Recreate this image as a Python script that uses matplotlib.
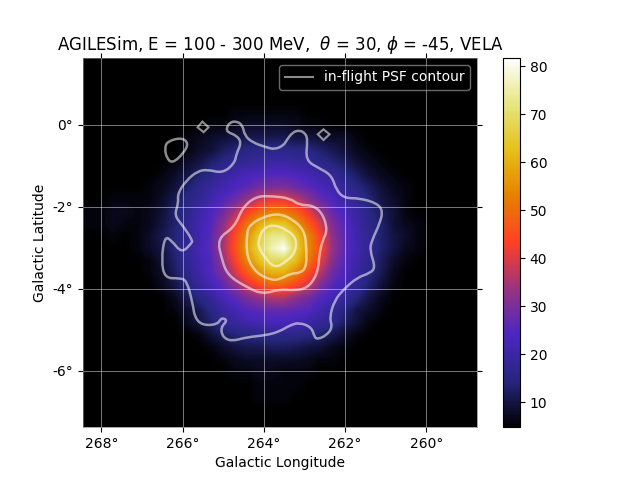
import numpy as np
import matplotlib
matplotlib.use("Agg")
import matplotlib.pyplot as plt
from matplotlib.path import Path
from matplotlib.patches import PathPatch
from matplotlib.lines import Line2D

# counts map, 0.3 deg cells, rows run from north to south
bg = [5] * 33
counts = np.array([
    bg, bg, bg, bg,
    [5]*12 + [6, 6, 6, 6, 6, 6] + [5]*15,
    [5]*10 + [6, 6, 7, 8, 8, 8, 8, 7, 6, 6, 5] + [5]*12,
    [5]*8 + [6, 7, 8, 9, 10, 11, 11, 11, 11, 10, 10, 9, 8, 8, 6] + [5]*10,
    [5]*8 + [6, 8, 9, 12, 14, 15, 16, 16, 16, 15, 15, 13, 11, 9, 7, 6] + [5]*9,
    [5]*7 + [6, 8, 10, 13, 15, 17, 18, 19, 20, 20, 19, 18, 16, 14, 12, 9, 7, 6] + [5]*8,
    [5]*6 + [6, 8, 10, 13, 16, 19, 21, 23, 24, 25, 25, 24, 22, 20, 18, 15, 12, 9, 7, 6] + [5]*7,
    [5]*5 + [6, 7, 9, 13, 16, 19, 21, 24, 26, 29, 30, 30, 28, 26, 23, 21, 18, 15, 12, 9, 7, 6] + [5]*6,
    [5, 5, 6, 6, 6, 6, 8, 11, 15, 17, 21, 25, 28, 33, 38, 41, 41, 37, 32, 27, 24, 20, 17, 14, 10, 8, 6] + [5]*6,
    [6, 6, 7, 7, 6, 7, 9, 13, 16, 20, 24, 28, 35, 43, 49, 53, 52, 48, 41, 33, 27, 23, 19, 15, 12, 9, 6] + [5]*6,
    [6, 6, 7, 6, 6, 7, 10, 13, 17, 21, 25, 32, 41, 51, 60, 64, 64, 57, 48, 39, 30, 25, 20, 16, 13, 9, 7, 6] + [5]*5,
    [5, 5, 6, 5, 6, 8, 11, 14, 17, 21, 26, 34, 45, 56, 66, 73, 73, 64, 54, 43, 32, 26, 21, 17, 13, 10, 8, 6] + [5]*5,
    [5, 5, 5, 5, 6, 8, 10, 14, 18, 22, 26, 35, 46, 58, 68, 76, 81, 66, 55, 44, 33, 26, 21, 17, 13, 10, 7, 6] + [5]*5,
    [5]*5 + [6, 9, 13, 17, 21, 25, 33, 43, 54, 63, 69, 68, 62, 52, 41, 31, 25, 20, 16, 12, 8, 6, 5] + [5]*5,
    [5]*5 + [6, 8, 12, 16, 20, 25, 30, 39, 47, 55, 60, 60, 53, 45, 36, 28, 24, 19, 15, 11, 7, 5, 5] + [5]*5,
    [5]*5 + [5, 7, 10, 14, 18, 22, 26, 32, 39, 44, 48, 47, 43, 38, 30, 25, 21, 17, 13, 9, 6, 5, 5] + [5]*5,
    [5]*5 + [5, 5, 7, 11, 15, 18, 23, 26, 30, 33, 36, 36, 32, 29, 25, 22, 18, 14, 10, 7, 5, 5, 5] + [5]*5,
    [5]*5 + [5, 5, 6, 8, 11, 15, 19, 22, 25, 26, 27, 27, 26, 25, 21, 18, 14, 10, 8, 6, 5, 5, 5] + [5]*5,
    [5]*5 + [5, 5, 5, 7, 10, 13, 17, 19, 21, 22, 23, 23, 22, 20, 18, 16, 12, 9, 6, 5, 5, 5, 5] + [5]*5,
    [5]*5 + [5, 5, 5, 5, 6, 9, 12, 14, 15, 16, 16, 16, 16, 15, 13, 11, 8, 6, 5, 5, 5, 5, 5] + [5]*5,
    [5]*5 + [5, 5, 5, 5, 5, 6, 8, 10, 11, 11, 12, 12, 11, 10, 9, 7, 6, 5, 5, 5, 5, 5, 5] + [5]*5,
    [5]*5 + [5, 5, 5, 5, 5, 5, 6, 7, 8, 8, 8, 8, 8, 7, 6, 6, 5, 5, 5, 5, 5, 5, 5] + [5]*5,
    [5]*12 + [6, 6, 7, 7, 6, 6, 6, 5] + [5]*13,
    [5]*13 + [5, 6, 6, 6, 6, 5] + [5]*14,
    [5]*14 + [6, 6, 6] + [5]*16,
    bg, bg,
], dtype=float)

# PSF contours as (lon, lat) in degrees
outer_lon = [264.92, 264.84, 264.67, 264.52, 264.47, 264.28, 263.93, 263.73, 263.51, 263.44, 263.29, 263.12,
             262.97, 262.92, 262.97, 262.63, 262.33, 262.21, 262.01, 261.64, 261.22, 261.07, 261.14, 261.34,
             261.39, 261.25, 261.39, 261.69, 262.01, 262.26, 262.38, 262.31, 262.45, 262.67, 262.75, 262.82,
             263.12, 263.36, 263.61, 263.93, 264.42, 264.79, 265.01, 265.06, 264.89, 265.04, 265.14, 265.51,
             265.70, 265.75, 265.90, 266.07, 266.44, 266.52, 266.44, 266.27, 266.02, 265.78, 265.75, 266.00,
             266.20, 266.10, 266.12, 265.90, 265.63, 265.38, 265.01, 264.72, 264.67, 264.55, 264.67, 264.89]
outer_lat = [-0.09, 0.06, 0.09, -0.01, -0.26, -0.43, -0.55, -0.60, -0.50, -0.38, -0.18, -0.13,
             -0.21, -0.38, -0.87, -1.06, -1.23, -1.60, -1.79, -1.79, -1.91, -2.09, -2.40, -2.82,
             -3.06, -3.48, -3.62, -3.72, -3.99, -4.28, -4.70, -4.94, -5.13, -5.23, -5.18, -4.94,
             -4.82, -4.89, -5.04, -5.13, -5.18, -5.28, -5.18, -4.94, -4.77, -4.70, -4.87, -4.89,
             -4.70, -4.35, -3.79, -3.74, -3.74, -3.30, -2.72, -2.82, -3.13, -2.89, -2.82, -2.45,
             -2.21, -1.91, -1.67, -1.35, -1.13, -1.09, -1.18, -0.94, -0.70, -0.43, -0.26, -0.18]

mid_lon = [265.14, 264.72, 264.52, 264.18, 263.78, 263.36, 263.12, 262.80, 262.55, 262.43, 262.55,
           262.63, 262.67, 262.92, 263.29, 263.61, 264.03, 264.42, 264.89, 265.04]
mid_lat = [-2.77, -2.50, -2.01, -1.74, -1.74, -1.79, -1.96, -1.96, -2.16, -2.57, -2.82,
           -3.13, -3.62, -3.99, -4.04, -4.01, -4.13, -3.96, -3.67, -3.26]

ring_lon = [264.42, 264.35, 264.05, 263.66, 263.32, 263.00, 262.95, 262.95, 263.12, 263.32, 263.61, 263.81, 264.18, 264.42]
ring_lat = [-2.65, -2.45, -2.26, -2.16, -2.28, -2.57, -2.99, -3.48, -3.62, -3.62, -3.77, -3.79, -3.62, -3.23]

core_lon = [264.13, 264.03, 263.78, 263.44, 263.19, 263.22, 263.44, 263.73, 263.98, 264.13]
core_lat = [-2.82, -2.55, -2.43, -2.55, -2.77, -3.11, -3.33, -3.50, -3.23, -2.98]

isl1_lon = [266.44, 266.37, 266.02, 265.85, 265.98, 266.25, 266.39]
isl1_lat = [-0.57, -0.40, -0.31, -0.45, -0.70, -0.94, -0.81]
isl2_lon = [265.63, 265.51, 265.36, 265.48]
isl2_lat = [-0.06, 0.08, -0.06, -0.18]
isl3_lon = [262.67, 262.53, 262.38, 262.53]
isl3_lat = [-0.23, -0.11, -0.23, -0.37]

lon_ticks = [268, 266, 264, 262, 260]
lat_ticks = [0, -2, -4, -6]
cbar_ticks = [10, 20, 30, 40, 50, 60, 70, 80]


def closed_curve(lon, lat):
    # quadratic path through the midpoints, so the outline is not faceted
    pts = np.column_stack([lon, lat])
    mids = (pts + np.roll(pts, -1, axis=0)) / 2
    verts = [mids[-1]]
    codes = [Path.MOVETO]
    for p, m in zip(pts, mids):
        verts += [p, m]
        codes += [Path.CURVE3, Path.CURVE3]
    return Path(verts, codes)


def closed_poly(lon, lat):
    # the two tiny islands are plain diamonds
    return Path(np.column_stack([lon + lon[:1], lat + lat[:1]]), closed=True)


fig = plt.figure(figsize=(6.4, 4.8), dpi=100)
ax = fig.add_axes([83/640, 53/480, 394/640, 369/480])
im = ax.imshow(counts, cmap="CMRmap", vmin=4.8, vmax=81.7, aspect="auto",
               interpolation="bilinear", extent=(268.45, 258.55, -7.37, 1.63))
ax.set_xlim(268.45, 258.75)
ax.set_ylim(-7.37, 1.63)

for lon, lat in [(outer_lon, outer_lat), (mid_lon, mid_lat), (ring_lon, ring_lat), (core_lon, core_lat),
                 (isl1_lon, isl1_lat)]:
    ax.add_patch(PathPatch(closed_curve(lon, lat), fill=False, edgecolor="white", alpha=0.55, lw=1.8))
for lon, lat in [(isl2_lon, isl2_lat), (isl3_lon, isl3_lat)]:
    ax.add_patch(PathPatch(closed_poly(lon, lat), fill=False, edgecolor="white", alpha=0.55, lw=1.5))

ax.set_xticks(lon_ticks)
ax.set_xticklabels([f"{v}°" for v in lon_ticks])
ax.set_yticks(lat_ticks)
ax.set_yticklabels([f"{v}°" for v in lat_ticks])
ax.tick_params(top=True, right=True)
ax.grid(color="white", alpha=0.55, lw=0.6)
for sp in ax.spines.values():
    sp.set_color("gray")
    sp.set_linewidth(0.5)
ax.set_xlabel("Galactic Longitude")
ax.set_ylabel("Galactic Latitude")
ax.set_title(r"AGILESim, E = 100 - 300 MeV,  $\theta$ = 30, $\phi$ = -45, VELA")

handle = Line2D([], [], color="white", alpha=0.55, lw=1.5)
leg = ax.legend([handle], ["in-flight PSF contour"], loc="upper right", facecolor="black", edgecolor="lightgray",
                labelcolor="white", framealpha=0.5)

cax = fig.add_axes([503/640, 53/480, 17/640, 369/480])
cb = fig.colorbar(im, cax=cax)
cb.set_ticks(cbar_ticks)

fig.savefig("out.png", dpi=100)
